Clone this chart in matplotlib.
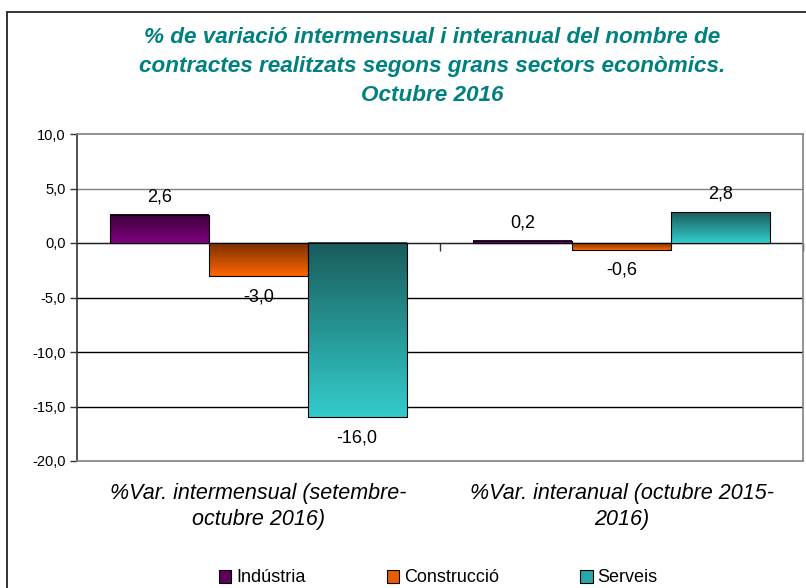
import numpy as np
import matplotlib.pyplot as plt
from matplotlib.patches import Rectangle, Patch
from matplotlib.colors import to_rgb
from matplotlib.markers import TICKDOWN

plt.rcParams['font.family'] = ['Liberation Sans', 'DejaVu Sans']

# data
categories = ["%Var. intermensual (setembre-\noctubre 2016)",
              "%Var. interanual (octubre 2015-\n2016)"]
sectors = ["Indústria", "Construcció", "Serveis"]
industria = [2.6, 0.2]
construccio = [-3.0, -0.6]
serveis = [-16.0, 2.8]
yticks = [10, 5, 0, -5, -10, -15, -20]

series = [industria, construccio, serveis]
light = ["#800080", "#ff6600", "#33cccc"]
dark = ["#3a003a", "#7a3000", "#1a5c5c"]
legend_col = ["#5c005c", "#e85d00", "#2aa8a8"]

fig = plt.figure(figsize=(8.06, 5.88), dpi=100)
ax = fig.add_axes([77/806, 1-461/588, (803-77)/806, (461-134)/588])

x = np.arange(len(categories))
w = 0.272
for i, vals in enumerate(series):
    bars = ax.bar(x + (i-1)*w, vals, w, facecolor='none', edgecolor='black',
                  linewidth=0.8, zorder=4)
    c0, c1 = np.array(to_rgb(dark[i])), np.array(to_rgb(light[i]))
    t = np.linspace(0, 1, 64)[:, None, None]
    grad = c0 + (c1 - c0) * t
    for b, v in zip(bars, vals):
        bx, by, bw, bh = b.get_x(), b.get_y(), b.get_width(), b.get_height()
        lo, hi = min(by, by+bh), max(by, by+bh)
        ax.imshow(grad, extent=[bx, bx+bw, lo, hi], aspect='auto', zorder=3,
                  interpolation='bilinear')
        off = 13 if v >= 0 else -15
        ax.annotate(f"{v:.1f}".replace('.', ','), (bx+bw/2, by+bh),
                    xytext=(0, off), textcoords='offset points',
                    ha='center', va='center', fontsize=13, zorder=5)

ax.set_xlim(-0.5, 1.5)
ax.set_ylim(-20, 10)
ax.set_yticks(yticks)
ax.set_yticklabels([f"{v:.1f}".replace('.', ',') for v in yticks], fontsize=10.5)
ax.tick_params(axis='y', length=5, width=1, color='#333333', pad=3)
for v in yticks[1:-1]:
    ax.axhline(v, color='#808080' if v > 0 else 'black', lw=1 if v != 0 else 0.9, zorder=1)
ax.axhline(0, color='#222222', lw=0.9, zorder=2)
ax.plot([0.5, 1.5], [0, 0], ls='none', marker=TICKDOWN, ms=6, mew=1, color='#333333',
        clip_on=False, zorder=2)

ax.set_xticks(x)
ax.set_xticklabels(categories, fontsize=15.5, style='italic', linespacing=1.3)
ax.tick_params(axis='x', length=0, pad=16)

for s in ['top', 'right', 'bottom']:
    ax.spines[s].set_color('#808080')
    ax.spines[s].set_linewidth(1.2)
ax.spines['left'].set_color('#333333')
ax.spines['left'].set_linewidth(1.2)

fig.text(432/806, 1-27/588,
         "% de variació intermensual i interanual del nombre de\n"
         "contractes realitzats segons grans sectors econòmics.\n"
         "Octubre 2016",
         ha='center', va='top', color='#008080', fontsize=16.2,
         fontweight='bold', style='italic', linespacing=1.5)

handles = [Patch(facecolor=c, edgecolor='black', linewidth=0.8) for c in legend_col]
fig.legend(handles, sectors, loc='center', bbox_to_anchor=(438/806, 1-578/588),
           ncol=3, frameon=False, fontsize=13, columnspacing=4.5,
           handlelength=0.7, handleheight=0.7, handletextpad=0.25)

fig.patches.append(Rectangle((7/806, -0.1), 1.0, 1.1 - 12/588, transform=fig.transFigure,
                             fill=False, edgecolor='#222222', lw=1.3))

fig.savefig("out.png", dpi=100)
